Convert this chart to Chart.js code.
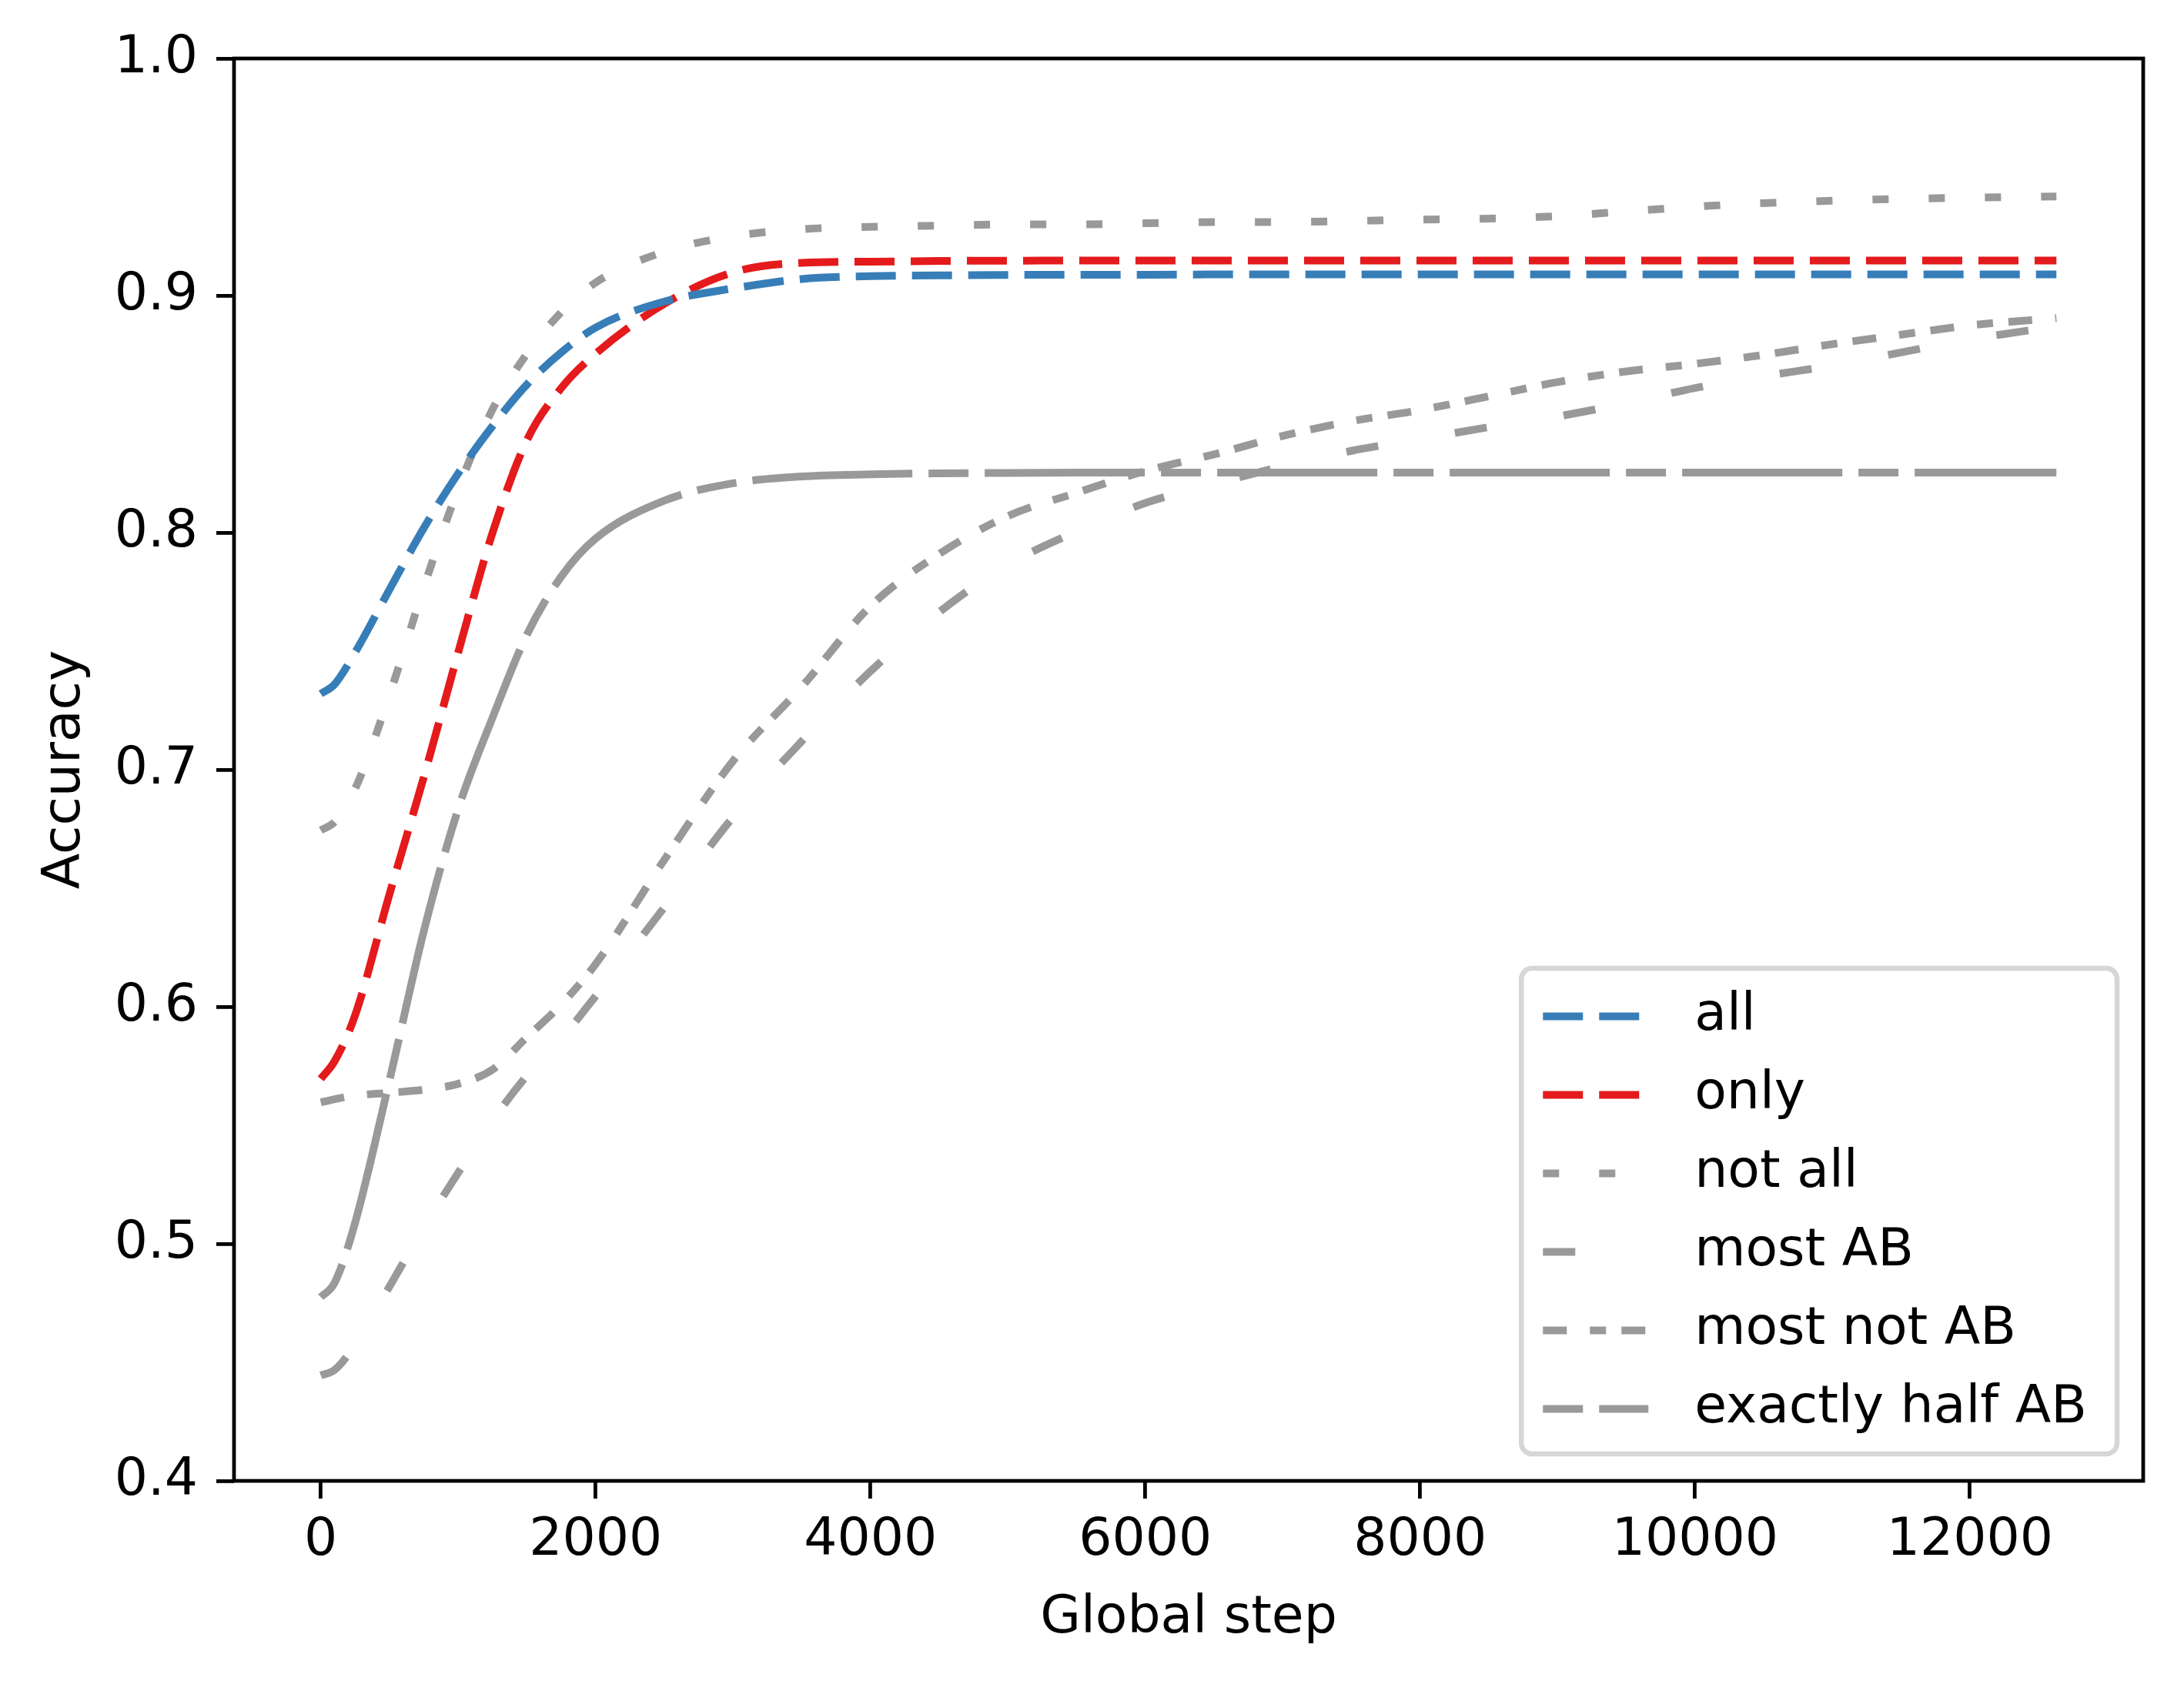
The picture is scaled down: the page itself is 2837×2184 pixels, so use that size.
<!DOCTYPE html>
<html>
<head>
<meta charset="utf-8">
<script src="https://cdn.jsdelivr.net/npm/chart.js@4.4.1/dist/chart.umd.min.js"></script>
<style>
html,body{margin:0;padding:0;background:#ffffff;}
canvas{display:block;}
</style>
</head>
<body>
<canvas id="c" width="2837" height="2184" style="width:2837px;height:2184px"></canvas>
<script>
// ---- data ----
const steps = [0, 100, 250, 500, 750, 1000, 1250, 1500, 1750, 2000, 2500, 3000, 3500, 4000, 4500, 5000,
  5500, 6000, 6500, 7000, 7500, 8000, 8500, 9000, 9500, 10000, 10500, 11000, 11500, 12000, 12630];

const accAll = [0.732, 0.736, 0.7495, 0.776, 0.802, 0.825, 0.845, 0.8625, 0.876, 0.8865, 0.8975, 0.903,
  0.907, 0.9082, 0.9085, 0.9087, 0.9088, 0.9088, 0.9089, 0.9089, 0.9089, 0.9089, 0.9089, 0.9089, 0.9089,
  0.9089, 0.9089, 0.9089, 0.9089, 0.9089, 0.9089];

const accOnly = [0.5696, 0.577, 0.5965, 0.6475, 0.697, 0.7495, 0.800, 0.839, 0.861, 0.8755, 0.8965, 0.9098,
  0.9138, 0.9143, 0.9146, 0.9147, 0.9148, 0.9148, 0.9148, 0.9148, 0.9148, 0.9148, 0.9148, 0.9148, 0.9148,
  0.9148, 0.9148, 0.9148, 0.9148, 0.9148, 0.9148];

const accNotAll = [0.6744, 0.678, 0.692, 0.7315, 0.777, 0.8185, 0.852, 0.8755, 0.893, 0.9055, 0.9185, 0.925,
  0.928, 0.929, 0.9295, 0.930, 0.930, 0.9305, 0.931, 0.931, 0.9315, 0.932, 0.9325, 0.9335, 0.9355, 0.9375,
  0.939, 0.940, 0.9408, 0.9413, 0.9418];

const accMostAB = [0.4445, 0.4468, 0.4575, 0.482, 0.507, 0.530, 0.552, 0.571, 0.5865, 0.6045, 0.642, 0.680,
  0.712, 0.7415, 0.7665, 0.7865, 0.8005, 0.8125, 0.8205, 0.828, 0.8345, 0.8395, 0.8445, 0.849, 0.8546, 0.861,
  0.866, 0.8705, 0.876, 0.8815, 0.887];

const accMostNotAB = [0.5596, 0.561, 0.5626, 0.5637, 0.565, 0.5675, 0.5735, 0.5872, 0.601, 0.618, 0.662, 0.7037,
  0.735, 0.769, 0.791, 0.807, 0.8168, 0.826, 0.833, 0.8408, 0.847, 0.8517, 0.8575, 0.8635, 0.868, 0.8712,
  0.875, 0.8795, 0.8835, 0.8874, 0.8905];

const accHalfAB = [0.4775, 0.4835, 0.509, 0.569, 0.632, 0.6835, 0.722, 0.757, 0.7815, 0.7975, 0.8135, 0.8208,
  0.8237, 0.8246, 0.825, 0.8252, 0.8253, 0.8253, 0.8253, 0.8253, 0.8253, 0.8253, 0.8253, 0.8253, 0.8253,
  0.8253, 0.8253, 0.8253, 0.8253, 0.8253, 0.8253];

const seriesLabels = ['all', 'only', 'not all', 'most AB', 'most not AB', 'exactly half AB'];
const xTickValues = [0, 2000, 4000, 6000, 8000, 10000, 12000];
const yTickValues = [0.4, 0.5, 0.6, 0.7, 0.8, 0.9, 1.0];

// ---- styles ----
const BLUE = '#377eb8', RED = '#e41a1c', GRAY = '#999999';
const FONT = 68;
Chart.defaults.font.family = '"DejaVu Sans", sans-serif';
Chart.defaults.color = '#000000';

const seriesValues = [accAll, accOnly, accNotAll, accMostAB, accMostNotAB, accHalfAB];
const seriesColors = [BLUE, RED, GRAY, GRAY, GRAY, GRAY];
const seriesDash = [[52, 21], [52, 21], [21, 52], [42, 101], [31, 30, 21, 20], [52, 21, 208, 21]];

const datasets = seriesLabels.map((lab, k) => ({
  label: lab,
  data: steps.map((s, i) => ({x: s, y: seriesValues[k][i]})),
  borderColor: seriesColors[k],
  backgroundColor: seriesColors[k],
  borderDash: seriesDash[k],
  borderWidth: 10,
  fill: false,
  pointRadius: 0,
  cubicInterpolationMode: 'monotone',
  borderCapStyle: 'butt',
  borderJoinStyle: 'round'
}));

const framePlugin = {
  id: 'frame',
  afterDatasetsDraw(chart) {
    const {ctx, chartArea: a} = chart;
    ctx.save();
    ctx.strokeStyle = '#000000';
    ctx.lineWidth = 4.8;
    ctx.setLineDash([]);
    ctx.strokeRect(a.left, a.top, a.right - a.left, a.bottom - a.top);
    ctx.restore();
  }
};

function roundRectPath(ctx, x, y, w, h, r) {
  ctx.beginPath();
  ctx.moveTo(x + r, y);
  ctx.lineTo(x + w - r, y);
  ctx.arcTo(x + w, y, x + w, y + r, r);
  ctx.lineTo(x + w, y + h - r);
  ctx.arcTo(x + w, y + h, x + w - r, y + h, r);
  ctx.lineTo(x + r, y + h);
  ctx.arcTo(x, y + h, x, y + h - r, r);
  ctx.lineTo(x, y + r);
  ctx.arcTo(x, y, x + r, y, r);
  ctx.closePath();
}

const legendPlugin = {
  id: 'boxLegend',
  afterDraw(chart) {
    const {ctx, chartArea: a} = chart;
    const ds = chart.data.datasets;
    ctx.save();
    ctx.font = FONT + 'px "DejaVu Sans", sans-serif';
    const maxW = Math.max(...ds.map(d => ctx.measureText(d.label).width));
    const padL = 28, padR = 39, handleLen = 137, textGap = 60, rowGap = 102;
    const firstRow = 62.5, lastPad = 58.5;
    const w = padL + handleLen + textGap + maxW + padR;
    const h = firstRow + (ds.length - 1) * rowGap + lastPad;
    const right = a.right - 34, bottom = a.bottom - 35;
    const left = right - w, top = bottom - h;
    roundRectPath(ctx, left, top, w, h, 14);
    ctx.fillStyle = 'rgba(255,255,255,0.8)';
    ctx.fill();
    ctx.lineWidth = 6.5;
    ctx.strokeStyle = 'rgba(204,204,204,0.8)';
    ctx.stroke();
    ds.forEach((d, i) => {
      const y = top + firstRow + i * rowGap;
      ctx.beginPath();
      ctx.setLineDash(d.borderDash);
      ctx.lineDashOffset = 0;
      ctx.strokeStyle = d.borderColor;
      ctx.lineWidth = d.borderWidth;
      ctx.lineCap = 'butt';
      ctx.moveTo(left + padL, y);
      ctx.lineTo(left + padL + handleLen, y);
      ctx.stroke();
      ctx.setLineDash([]);
      ctx.fillStyle = '#000000';
      ctx.textAlign = 'left';
      ctx.textBaseline = 'middle';
      ctx.fillText(d.label, left + padL + handleLen + textGap, y);
    });
    ctx.restore();
  }
};

const tickGrid = {drawOnChartArea: false, drawTicks: true, tickLength: 23, color: '#000000', lineWidth: 4.8};

new Chart(document.getElementById('c'), {
  type: 'line',
  data: {datasets},
  options: {
    responsive: false,
    animation: false,
    devicePixelRatio: 1,
    layout: {padding: {left: 0, top: 76, right: 53, bottom: 0}},
    plugins: {legend: {display: false}, tooltip: {enabled: false}},
    scales: {
      x: {
        type: 'linear',
        min: -631.5,
        max: 13261.5,
        afterBuildTicks: s => { s.ticks = xTickValues.map(v => ({value: v})); },
        afterFit: s => { s.height = 260; },
        grid: tickGrid,
        border: {display: false},
        ticks: {font: {size: FONT}, color: '#000', padding: 15, maxRotation: 0, autoSkip: false,
                callback: v => String(v)},
        title: {display: true, text: 'Global step', font: {size: FONT}, color: '#000',
                padding: {top: 0, bottom: 40}}
      },
      y: {
        type: 'linear',
        min: 0.4,
        max: 1.0,
        afterBuildTicks: s => { s.ticks = yTickValues.map(v => ({value: v})); },
        afterFit: s => { s.width = 304; },
        grid: tickGrid,
        border: {display: false},
        ticks: {font: {size: FONT}, color: '#000', padding: 24, autoSkip: false,
                callback: v => Number(v).toFixed(1)},
        title: {display: true, text: 'Accuracy', font: {size: FONT}, color: '#000',
                padding: {top: 45, bottom: 0}}
      }
    }
  },
  plugins: [framePlugin, legendPlugin]
});
</script>
</body>
</html>
